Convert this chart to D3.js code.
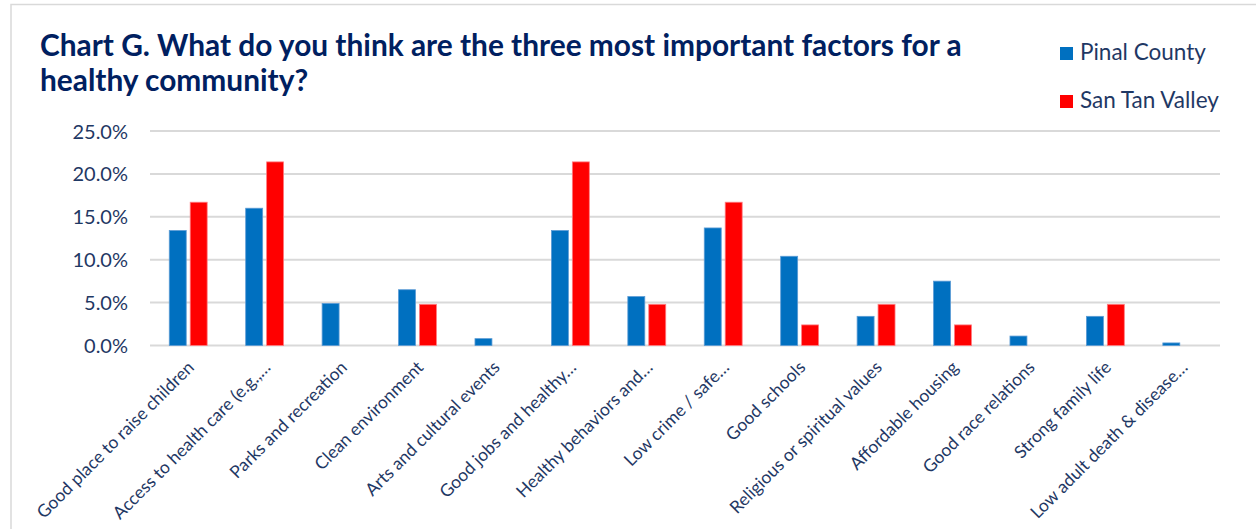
<!DOCTYPE html>
<html>
<head>
<meta charset="utf-8">
<script src="https://cdn.jsdelivr.net/npm/d3@7"></script>
<style>
  html, body { margin: 0; padding: 0; background: #ffffff; }
  svg { display: block; font-family: Lato, "Open Sans", sans-serif; }
</style>
</head>
<body>
<svg id="chart" width="1256" height="529"></svg>
<script>
// Survey responses: share choosing each factor (percent)
const categories = [
  "Good place to raise children",
  "Access to health care (e.g.,…",
  "Parks and recreation",
  "Clean environment",
  "Arts and cultural events",
  "Good jobs and healthy…",
  "Healthy behaviors and…",
  "Low crime / safe…",
  "Good schools",
  "Religious or spiritual values",
  "Affordable housing",
  "Good race relations",
  "Strong family life",
  "Low adult death & disease…"
];
const seriesNames = ["Pinal County", "San Tan Valley"];
const pinalCounty  = [13.4, 16.0, 4.9, 6.5, 0.8, 13.4, 5.7, 13.7, 10.4, 3.4, 7.5, 1.1, 3.4, 0.3];
const sanTanValley = [16.7, 21.4, 0, 4.8, 0, 21.4, 4.8, 16.7, 2.4, 4.8, 2.4, 0, 4.8, 0];
const yTicks = [0, 5, 10, 15, 20, 25];

const colors = ["#0070C0", "#FF0000"];
const strokes = ["#5B9BD5", "#FF7C80"];
const navy = "#002060";
const labelColor = "#1F3864";

const svg = d3.select("#chart");

// chart frame
svg.append("path")
  .attr("d", "M11,1000 L11,4.5 L1300,4.5")
  .attr("fill", "none")
  .attr("stroke", "#D9D9D9")
  .attr("stroke-width", 1.5);

const plot = { left: 150, right: 1220, top: 131, bottom: 345.5 };

const x = d3.scaleBand().domain(categories).range([plot.left, plot.right]).padding(0);
const y = d3.scaleLinear().domain([0, 25]).range([plot.bottom, plot.top]);

// gridlines
svg.append("g")
  .selectAll("line")
  .data(yTicks)
  .join("line")
  .attr("x1", plot.left).attr("x2", plot.right)
  .attr("y1", d => y(d)).attr("y2", d => y(d))
  .attr("stroke", "#D9D9D9")
  .attr("stroke-width", 2);

// y axis labels
const yAxis = d3.axisLeft(y).tickValues(yTicks).tickFormat(d => d.toFixed(1) + "%").tickSize(0).tickPadding(0);
const yg = svg.append("g").attr("transform", `translate(128,0)`).call(yAxis);
yg.select(".domain").remove();
yg.selectAll("text")
  .attr("fill", labelColor)
  .style("font-family", "Lato, sans-serif")
  .style("font-size", "20px")
  .attr("dy", "0.35em");

// bars
const bw = x.bandwidth();
const barW = bw * 0.222;
const gap = bw * 0.052;
const series = [pinalCounty, sanTanValley];
series.forEach((vals, s) => {
  svg.append("g")
    .selectAll("rect")
    .data(vals.map((v, i) => ({ cat: categories[i], v })).filter(d => d.v > 0))
    .join("rect")
    .attr("x", d => x(d.cat) + bw / 2 + (s === 0 ? -(barW + gap / 2) : gap / 2))
    .attr("y", d => y(d.v))
    .attr("width", barW)
    .attr("height", d => y(0) - y(d.v))
    .attr("fill", colors[s])
    .attr("stroke", strokes[s])
    .attr("stroke-width", 0.8);
});

// x axis labels, rotated
const xAxis = d3.axisBottom(x).tickSize(0).tickPadding(0);
const xg = svg.append("g").attr("transform", `translate(0,${plot.bottom})`).call(xAxis);
xg.select(".domain").remove();
xg.selectAll(".tick text")
  .attr("fill", labelColor)
  .style("font-family", "Lato, sans-serif")
  .style("font-size", "17.5px")
  .attr("text-anchor", "end")
  .attr("dy", 0)
  .attr("y", 0)
  .attr("transform", "translate(7,23) rotate(-45)");

// title, fitted to its line widths
const titleLines = [
  { text: "Chart G. What do you think are the three most important factors for a", y: 56 },
  { text: "healthy community?", y: 91 }
];
const title = svg.append("g");
titleLines.forEach(l => {
  title.append("text")
    .attr("x", 40).attr("y", l.y)
    .attr("fill", navy)
    .style("font-family", "Lato, sans-serif")
    .style("font-weight", "bold")
    .style("font-size", "25px")
    .text(l.text);
});
const first = title.select("text").node();
const w = first.getComputedTextLength();
title.selectAll("text").style("font-size", (25 * 922 / w) + "px");

// legend
const legend = svg.append("g");
seriesNames.forEach((name, i) => {
  const ly = 47 + i * 48;
  legend.append("rect")
    .attr("x", 1060).attr("y", ly)
    .attr("width", 13).attr("height", 13)
    .attr("fill", colors[i]);
  legend.append("text")
    .attr("x", 1080).attr("y", ly + 13)
    .attr("fill", labelColor)
    .style("font-family", "Lato, sans-serif")
    .style("font-size", "22.5px")
    .text(name);
});
</script>
</body>
</html>
